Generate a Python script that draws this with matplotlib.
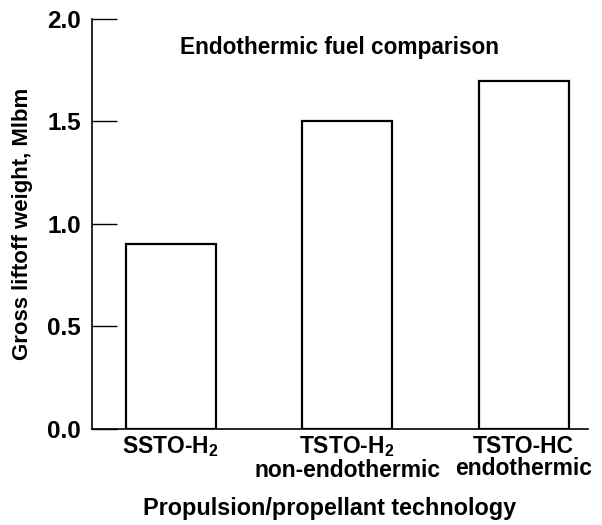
import matplotlib
matplotlib.use("Agg")
import matplotlib.pyplot as plt

# chart data
categories = ["SSTO-H$_2$", "TSTO-H$_2$\nnon-endothermic", "TSTO-HC\nendothermic"]
weights = [0.9, 1.5, 1.7]
yticks = [0.0, 0.5, 1.0, 1.5, 2.0]

plt.rcParams['font.family'] = ['Liberation Sans', 'DejaVu Sans']
plt.rcParams['font.weight'] = 'bold'
plt.rcParams['mathtext.fontset'] = 'custom'
plt.rcParams['mathtext.rm'] = 'Liberation Sans:bold'
plt.rcParams['mathtext.default'] = 'rm'

fig = plt.figure(figsize=(6.02, 5.25), dpi=100)
ax = fig.add_axes([0.1528, 0.1829, 0.8239, 0.7809])

x = list(range(len(categories)))
ax.bar(x, weights, width=0.51, color='white', edgecolor='black', linewidth=1.6)

ax.set_ylim(0, 2.0)
ax.set_xlim(-0.446, 2.364)
ax.set_yticks(yticks)
ax.set_yticklabels([f"{v:.1f}" for v in yticks])
ax.set_xticks(x)
ax.set_xticklabels(categories, linespacing=0.95)

ax.tick_params(axis='y', direction='in', length=18, width=1.0, labelsize=17.5, pad=8)
ax.tick_params(axis='x', length=0, labelsize=16.5, pad=4)

for s in ['top', 'right']:
    ax.spines[s].set_visible(False)
for s in ['left', 'bottom']:
    ax.spines[s].set_linewidth(1.2)

ax.text(0.5, 0.93, "Endothermic fuel comparison", transform=ax.transAxes,
        ha='center', va='center', fontsize=16.3, fontweight='bold')

ax.set_ylabel("Gross liftoff weight, Mlbm", fontsize=16, fontweight='bold', labelpad=10)
ax.set_xlabel("Propulsion/propellant technology", fontsize=16.8, fontweight='bold')
ax.xaxis.set_label_coords(0.48, -0.165)

fig.savefig("out.png", dpi=100)
